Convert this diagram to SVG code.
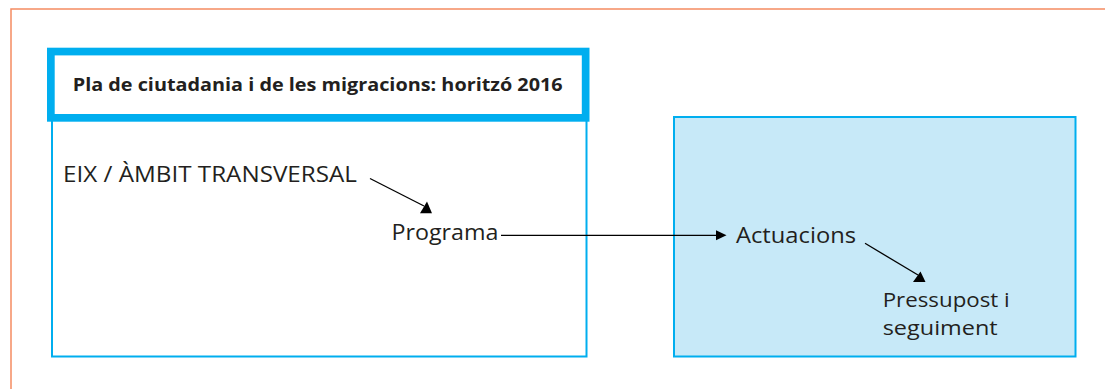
<svg xmlns="http://www.w3.org/2000/svg" width="1105" height="389" viewBox="0 0 1105 389">
<style>
.t{font-family:"Open Sans","Liberation Sans",sans-serif;fill:#231f20;}
.n{font-size:22.5px;}
.s{font-size:20.5px;}
.b{font-size:18.5px;font-weight:bold;}
.ln{stroke:#000;stroke-width:1.3;fill:none;}
.ah{fill:#000;}
</style>
<rect width="1105" height="389" fill="#fff"/>
<path d="M11,389 V9 H1105" fill="none" stroke="#f58c62" stroke-width="1.5"/>
<g id="plan-box">
<rect x="52" y="118" width="534.5" height="238.5" fill="#fff" stroke="#00aeef" stroke-width="2"/>
</g>
<g id="header">
<rect x="50.85" y="51.55" width="534.8" height="66.3" fill="#fff" stroke="#00aeef" stroke-width="7.7"/>
<text class="t b" x="72.7" y="91" textLength="490" lengthAdjust="spacingAndGlyphs">Pla de ciutadania i de les migracions: horitzó 2016</text>
</g>
<g id="actuacions-box">
<rect x="674" y="117" width="401.5" height="239.5" fill="#c7e9f8" stroke="#00aeef" stroke-width="2"/>
</g>
<g id="eix">
<text class="t n" x="63" y="181.5" textLength="294" lengthAdjust="spacingAndGlyphs">EIX / ÀMBIT TRANSVERSAL</text>
</g>
<g id="programa">
<text class="t n" x="391.5" y="239.5" textLength="107" lengthAdjust="spacingAndGlyphs">Programa</text>
</g>
<g id="actuacions">
<text class="t n" x="736" y="242.5" textLength="120" lengthAdjust="spacingAndGlyphs">Actuacions</text>
</g>
<g id="pressupost">
<text class="t s" x="882.7" y="306.5" textLength="127" lengthAdjust="spacingAndGlyphs">Pressupost i</text>
<text class="t s" x="882.7" y="335" textLength="115" lengthAdjust="spacingAndGlyphs">seguiment</text>
</g>
<g id="connectors">
<line class="ln" x1="370" y1="178.5" x2="424" y2="206"/>
<polygon class="ah" points="420,213.3 432,213.3 427,201.5"/>
<line class="ln" x1="501" y1="235.3" x2="717" y2="235.3"/>
<polygon class="ah" points="716,230.3 726.5,235.3 716,240.3"/>
<line class="ln" x1="865" y1="243.3" x2="918" y2="275"/>
<polygon class="ah" points="913,282 925.5,282 920.5,271.5"/>
</g>
</svg>
